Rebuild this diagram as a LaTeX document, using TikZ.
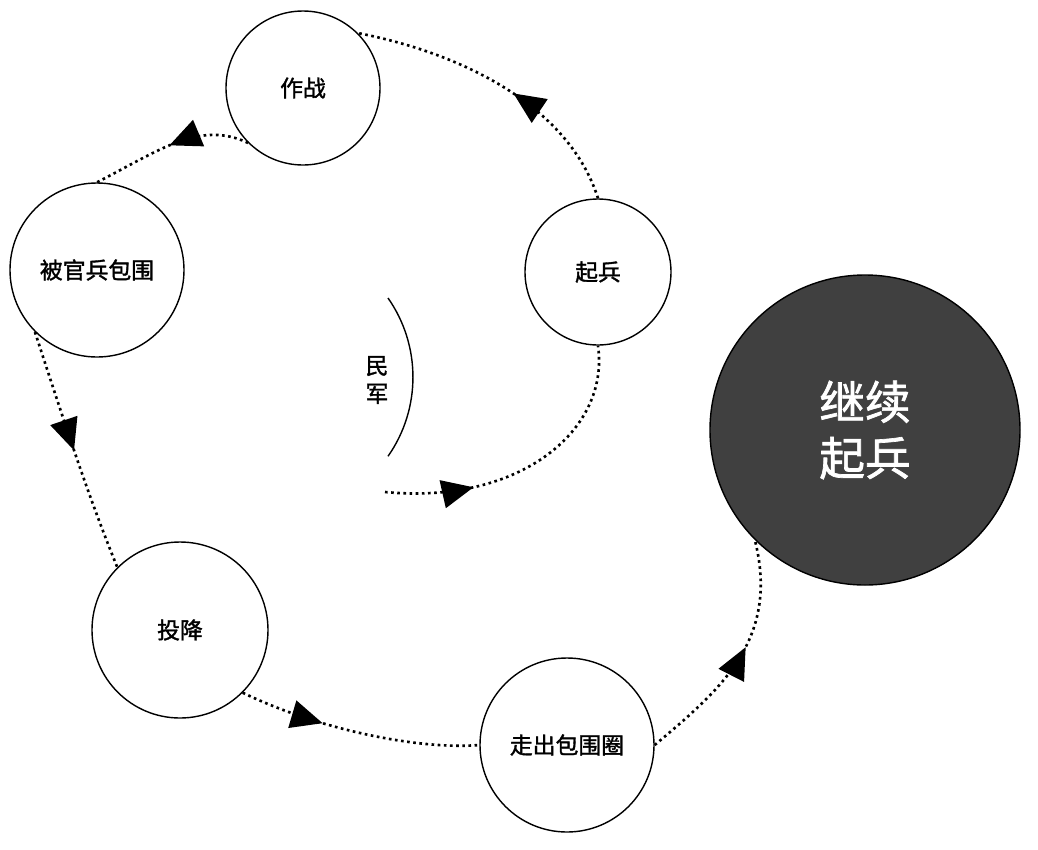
\documentclass[tikz,border=0pt]{standalone}
\usepackage{fontspec}
\newfontfamily\cjk{Noto Sans CJK SC}[FakeBold=1.5]
\usetikzlibrary{arrows.meta,decorations.markings,positioning}

\begin{document}
\begin{tikzpicture}[x=0.02cm,y=-0.02cm,
  stage/.style={draw,thick,circle,inner sep=0pt,font=\cjk\fontsize{13}{15}\selectfont},
  flow/.style={line width=1.5pt,dotted,postaction={decorate},
    decoration={markings,mark=at position #1 with {\arrow[solid]{Triangle[width=16pt,length=18pt]}}}}]
\useasboundingbox (0,0) rectangle (1038,849);

\node (fight) [stage, minimum size=154*0.02cm] at (303,88) {作战};
\node (siege) [stage, minimum size=174*0.02cm] at (97,270) {被官兵包围};
\node (rise) [stage, minimum size=146*0.02cm] at (598,272) {起兵};
\node (yield) [stage, minimum size=176*0.02cm] at (180,630) {投降};
\node (escape) [stage, minimum size=174*0.02cm] at (567,745) {走出包围圈};
\node (again) [stage, minimum size=310*0.02cm, fill={rgb,255:red,64;green,64;blue,64}, text=white,
  align=center, font=\cjk\fontsize{26}{32}\selectfont] at (865,430) {继续\\起兵};

% militia arc
\draw [thick] (388,298) arc[start angle=-35,end angle=35,radius=138];
\node (militia) [align=center, font=\cjk\fontsize{13}{16}\selectfont] at (377,380) {民\\军};
\coordinate (mstart) at (385,492);

\draw [flow=0.3] (mstart) .. controls (520,505) and (610,430) .. (rise.south);
\draw [flow=0.45] (rise.north) .. controls (570,110) and (470,55) .. (fight.north east);
\draw [flow=0.5] (fight.south west) .. controls (200,120) and (160,150) .. (siege.north);
\draw [flow=0.5] (siege.south west) .. controls (70,440) and (90,500) .. (yield.north west);
\draw [flow=0.35] (yield.south east) .. controls (320,730) and (420,750) .. (escape.west);
\draw [flow=0.55] (escape.east) .. controls (720,690) and (780,640) .. (again.south west);
\end{tikzpicture}
\end{document}
